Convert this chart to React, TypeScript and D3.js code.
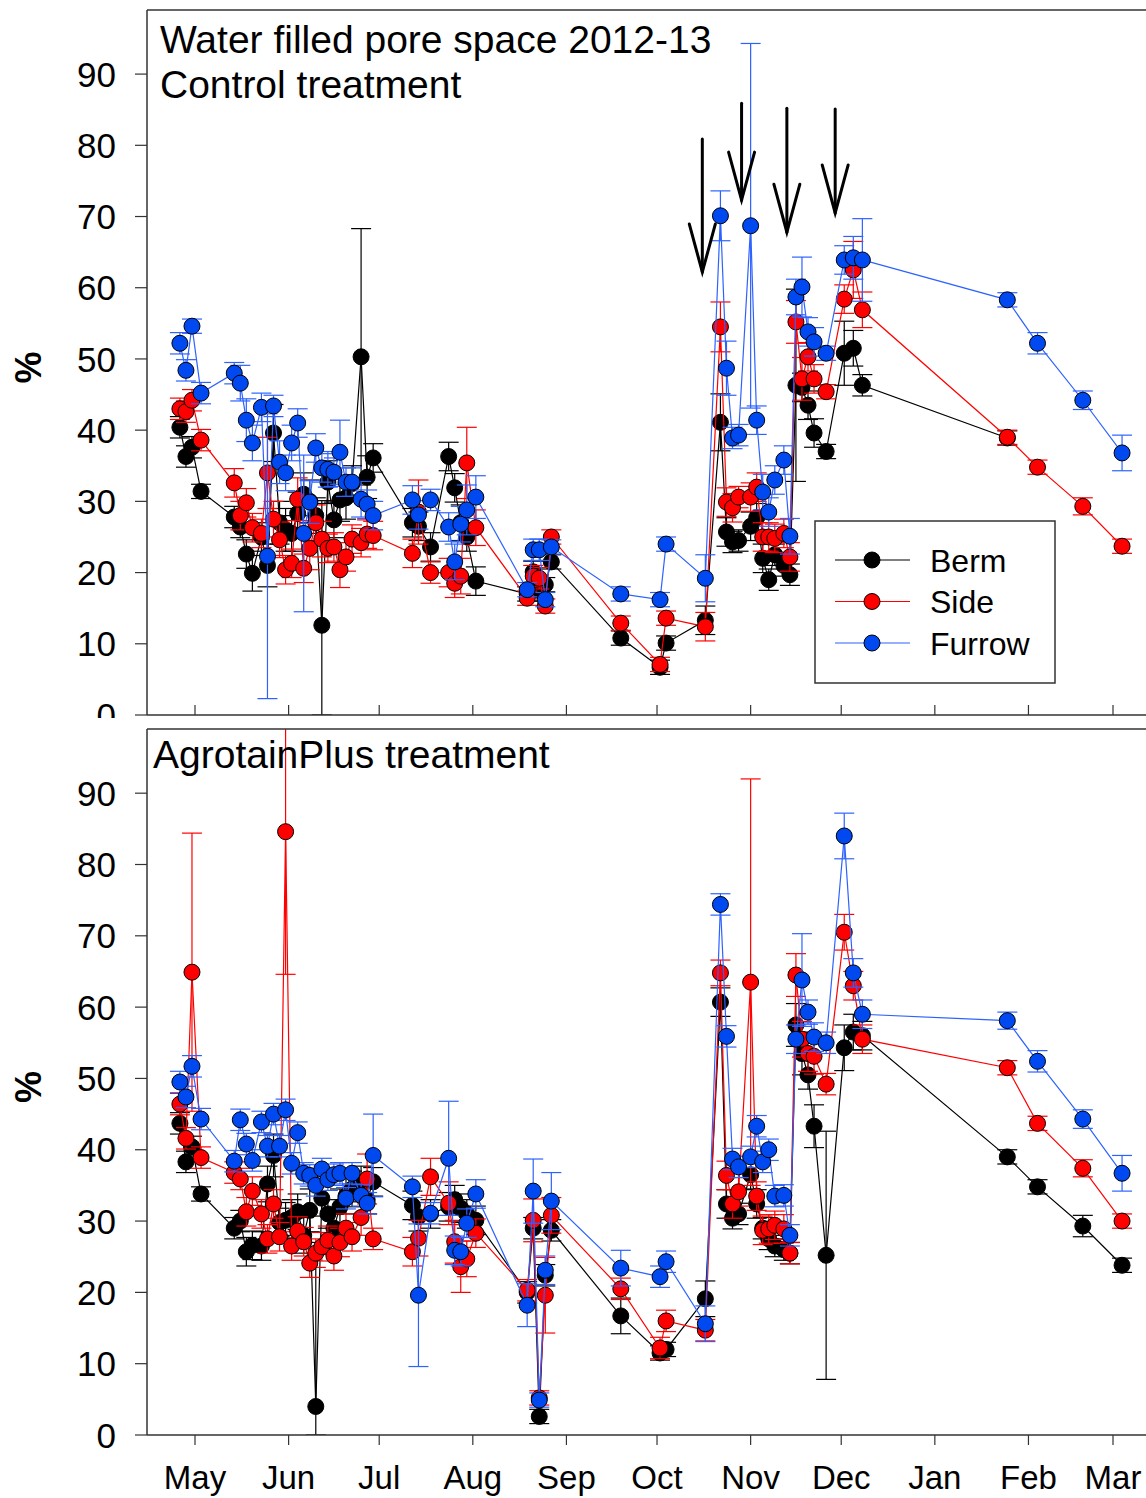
import React from "react";
import * as d3 from "d3";

// sampling dates shared by both treatments
const sampleDates = [
  "2012-04-26", "2012-04-28", "2012-04-30", "2012-05-03", "2012-05-14", "2012-05-16", "2012-05-18", "2012-05-20", "2012-05-23", "2012-05-25",
  "2012-05-27", "2012-05-29", "2012-05-31", "2012-06-02", "2012-06-04", "2012-06-06", "2012-06-08", "2012-06-10", "2012-06-12", "2012-06-14",
  "2012-06-16", "2012-06-18", "2012-06-20", "2012-06-22", "2012-06-25", "2012-06-27", "2012-06-29", "2012-07-12", "2012-07-14", "2012-07-18",
  "2012-07-24", "2012-07-26", "2012-07-28", "2012-07-30", "2012-08-02", "2012-08-19", "2012-08-21", "2012-08-23", "2012-08-25", "2012-08-27",
  "2012-09-19", "2012-10-02", "2012-10-04", "2012-10-17", "2012-10-22", "2012-10-24", "2012-10-26", "2012-10-28", "2012-11-01", "2012-11-03",
  "2012-11-05", "2012-11-07", "2012-11-09", "2012-11-12", "2012-11-14", "2012-11-16", "2012-11-18", "2012-11-20", "2012-11-22", "2012-11-26",
  "2012-12-02", "2012-12-05", "2012-12-08", "2013-01-25", "2013-02-04", "2013-02-19", "2013-03-04",
];

// Control treatment
const controlBerm = [
  40.4, 36.3, 37.6, 31.4, 27.8, 26.4, 22.6, 19.9, 25.0, 21.0,
  39.6, 27.0, 26.0, 25.5, 28.3, 31.0, 30.0, 28.0, 12.6, 32.7,
  27.4, 30.2, 30.5, 32.5, 50.3, 33.4, 36.1, 27.0, 26.5, 23.6,
  36.3, 31.9, 27.0, 25.0, 18.8, 17.0, 20.1, 17.5, 18.3, 21.5,
  10.8, 6.7, 10.1, 13.3, 41.1, 25.7, 24.3, 24.5, 26.5, 27.7,
  22.0, 19.0, 22.5, 21.0, 19.7, 46.3, 46.0, 43.5, 39.6, 37.0,
  50.8, 51.5, 46.3, 38.9, null, null, null,
];
const controlBermErr = [
  1.5, 1.5, 1.5, 1.0, 1.5, 1.5, 2.0, 2.5, 2.0, 3.0,
  4.0, 3.0, 3.0, 2.5, 3.0, 3.0, 3.0, 2.5, 17.5, 3.0,
  2.5, 3.0, 3.0, 2.5, 18.0, 3.0, 2.0, 2.0, 2.0, 2.0,
  2.0, 2.0, 2.5, 2.0, 2.0, 1.0, 1.5, 1.5, 1.0, 1.0,
  1.0, 1.0, 1.0, 2.0, 4.0, 2.0, 1.5, 1.5, 2.0, 2.0,
  2.0, 1.5, 1.5, 1.5, 1.5, 13.5, 2.0, 2.0, 2.0, 1.0,
  4.5, 2.5, 1.5, 1.0, null, null, null,
];
const controlSide = [
  43.0, 42.6, 44.2, 38.6, 32.6, 28.0, 29.8, 26.3, 25.5, 34.0,
  27.5, 24.6, 20.4, 21.3, 30.3, 20.6, 23.4, 27.0, 24.7, 23.4,
  23.6, 20.4, 22.2, 24.7, 24.2, 25.4, 25.2, 22.7, 28.5, 20.0,
  20.0, 18.5, 19.5, 35.4, 26.3, 16.4, 19.5, 19.2, 15.3, 25.0,
  12.9, 7.1, 13.6, 12.4, 54.5, 29.9, 29.1, 30.6, 30.6, 32.0,
  25.0, 25.0, 24.8, 25.5, 22.2, 55.2, 47.2, 50.3, 47.2, 45.4,
  58.4, 62.5, 56.9, 39.0, 34.8, 29.3, 23.7,
];
const controlSideErr = [
  1.5, 1.5, 1.5, 1.5, 2.0, 2.0, 2.0, 2.0, 2.0, 5.0,
  2.5, 2.5, 2.0, 2.0, 3.0, 2.0, 3.0, 2.5, 2.5, 2.0,
  2.0, 2.5, 2.0, 2.0, 2.0, 2.0, 2.0, 2.0, 4.5, 1.5,
  2.0, 2.0, 2.5, 5.0, 2.5, 1.0, 1.5, 1.5, 1.0, 1.0,
  1.0, 1.0, 1.0, 2.0, 3.5, 2.0, 2.0, 1.5, 2.0, 2.0,
  2.0, 2.0, 2.0, 2.0, 2.0, 3.0, 3.0, 2.0, 2.0, 1.0,
  2.0, 4.0, 2.5, 1.0, 1.0, 1.2, 1.0,
];
const controlFurrow = [
  52.2, 48.4, 54.6, 45.2, 48.0, 46.6, 41.4, 38.2, 43.2, 22.3,
  43.4, 35.5, 34.0, 38.2, 41.0, 25.5, 29.9, 37.5, 34.7, 34.5,
  34.1, 36.9, 32.7, 32.7, 30.3, 29.6, 28.0, 30.2, 28.1, 30.2,
  26.4, 21.5, 26.8, 28.8, 30.6, 17.6, 23.2, 23.2, 16.2, 23.6,
  17.0, 16.2, 24.0, 19.2, 70.1, 48.7, 38.9, 39.3, 68.7, 41.4,
  31.3, 28.5, 33.0, 35.8, 25.1, 58.7, 60.1, 53.8, 52.4, 50.8,
  63.9, 64.2, 63.9, 58.3, 52.2, 44.2, 36.8,
];
const controlFurrowErr = [
  1.5, 1.5, 1.0, 1.5, 1.5, 2.5, 3.0, 2.5, 2.0, 20.0,
  1.5, 3.0, 2.5, 2.5, 2.0, 11.0, 3.0, 2.0, 2.0, 2.5,
  2.0, 4.5, 2.0, 2.0, 2.5, 2.0, 2.0, 2.0, 2.0, 1.5,
  2.0, 2.5, 2.5, 3.5, 3.0, 1.0, 1.5, 1.5, 1.0, 1.0,
  1.0, 1.0, 1.0, 3.3, 3.5, 3.8, 1.5, 1.5, 25.6, 2.0,
  2.5, 2.0, 2.0, 2.0, 2.5, 2.5, 4.2, 2.0, 2.0, 1.0,
  2.0, 3.0, 5.8, 1.0, 1.5, 1.3, 2.5,
];

// AgrotainPlus treatment
const agroBerm = [
  43.7, 38.3, 40.4, 33.8, 29.0, 30.0, 25.7, 26.6, 26.5, 35.2,
  39.2, 29.8, 30.1, 30.5, 31.3, 28.0, 31.5, 4.0, 33.2, 31.0,
  29.0, 32.0, 33.5, 34.5, 35.2, 33.0, 35.5, 32.2, 30.6, 31.0,
  32.0, 33.0, 31.8, 31.0, 30.1, 20.0, 29.0, 2.6, 22.4, 28.7,
  16.7, 11.5, 12.0, 19.1, 60.7, 32.4, 30.4, 31.0, 36.5, 32.4,
  29.0, 27.5, 26.5, 26.0, 25.5, 57.5, 53.5, 50.5, 43.3, 25.2,
  54.3, 56.5, 56.0, 39.0, 34.8, 29.3, 23.8,
];
const agroBermErr = [
  1.5, 1.5, 1.5, 1.0, 1.5, 1.5, 2.0, 2.0, 2.0, 2.5,
  3.0, 2.0, 2.5, 2.5, 2.5, 2.5, 3.0, 23.0, 2.5, 2.0,
  2.0, 2.5, 2.5, 2.5, 2.5, 2.0, 2.0, 2.0, 2.0, 2.0,
  2.0, 2.0, 2.0, 2.0, 2.0, 1.5, 1.5, 1.0, 1.5, 1.5,
  2.5, 1.0, 1.0, 2.5, 2.0, 2.0, 1.5, 1.5, 2.0, 2.0,
  1.5, 1.5, 1.5, 1.5, 1.5, 3.0, 3.0, 2.0, 3.0, 17.4,
  3.2, 2.5, 2.0, 1.0, 1.0, 1.5, 1.0,
];
const agroSide = [
  46.4, 41.6, 64.9, 38.9, 36.8, 35.9, 31.3, 34.2, 31.0, 27.5,
  32.4, 27.8, 84.6, 26.5, 28.6, 27.1, 24.1, 25.5, 26.4, 27.3,
  25.1, 27.0, 29.0, 27.8, 30.5, 35.9, 27.5, 25.7, 27.6, 36.2,
  32.5, 27.1, 23.6, 24.7, 28.3, 20.3, 30.1, 5.2, 19.6, 30.8,
  20.5, 12.2, 16.0, 14.7, 64.8, 36.4, 32.4, 34.1, 63.5, 33.5,
  28.7, 28.9, 29.4, 28.9, 25.5, 64.5, 55.5, 53.5, 53.1, 49.2,
  70.5, 63.0, 55.5, 51.5, 43.7, 37.4, 30.0,
];
const agroSideErr = [
  1.5, 1.5, 19.5, 1.5, 1.5, 1.5, 2.0, 2.0, 2.0, 2.0,
  2.0, 2.0, 20.0, 2.0, 2.0, 2.0, 2.0, 2.0, 2.0, 2.0,
  2.0, 2.0, 2.0, 2.0, 2.5, 3.5, 1.5, 2.0, 2.5, 2.6,
  3.0, 3.0, 3.6, 2.5, 2.0, 1.5, 3.0, 1.0, 5.3, 2.5,
  1.5, 1.5, 1.5, 1.5, 1.8, 2.0, 2.0, 2.0, 28.5, 2.0,
  2.0, 2.0, 2.0, 2.0, 1.5, 3.0, 2.5, 2.5, 2.5, 1.5,
  2.5, 2.0, 2.0, 1.0, 1.0, 1.2, 1.0,
];
const agroFurrow = [
  49.5, 47.4, 51.7, 44.3, 38.4, 44.2, 40.8, 38.5, 43.9, 40.5,
  45.0, 40.5, 45.6, 38.1, 42.4, 36.7, 36.4, 35.0, 37.3, 35.8,
  36.5, 36.7, 33.2, 36.7, 33.6, 32.5, 39.2, 34.8, 19.6, 31.1,
  38.8, 25.9, 25.7, 29.7, 33.8, 18.2, 34.2, 4.9, 23.1, 32.8,
  23.4, 22.2, 24.3, 15.6, 74.4, 55.9, 38.7, 37.6, 39.0, 43.3,
  38.3, 40.0, 33.5, 33.6, 28.0, 55.5, 63.8, 59.3, 55.8, 55.0,
  84.0, 64.8, 59.0, 58.1, 52.4, 44.3, 36.7,
];
const agroFurrowErr = [
  1.5, 1.5, 1.5, 1.5, 1.5, 1.5, 1.5, 1.5, 1.5, 1.5,
  1.5, 1.5, 1.5, 1.5, 1.5, 1.5, 1.5, 1.5, 1.5, 1.5,
  1.5, 1.5, 1.5, 1.5, 1.5, 1.5, 5.8, 1.5, 10.0, 1.5,
  8.0, 2.0, 2.0, 2.0, 2.0, 3.0, 4.5, 1.0, 2.0, 4.0,
  2.5, 1.5, 1.5, 2.5, 1.5, 1.5, 1.5, 1.5, 1.5, 1.5,
  1.5, 1.5, 1.5, 1.5, 1.5, 2.0, 6.5, 1.7, 2.0, 1.5,
  3.2, 2.0, 2.0, 1.2, 1.5, 1.3, 2.5,
];

const seriesNames = ["Berm", "Side", "Furrow"];
const lineColors = ["#000000", "#ff0000", "#2e62ff"];
const fillColors = ["#000000", "#ff0000", "#0048f0"];

const yTicks = [0, 10, 20, 30, 40, 50, 60, 70, 80, 90];

// fertiliser events marked with arrows on the control panel
const arrowDates = ["2012-10-16", "2012-10-29", "2012-11-13", "2012-11-29"];
const arrowTips = [62.2, 72.3, 67.8, 70.5];
const arrowTops = [80.9, 85.9, 85.2, 85.1];

const W = 1146;
const H = 1498;
const left = 147;
const right = 1170;
const font = "'Liberation Sans', Arial, sans-serif";

const parse = d3.timeParse("%Y-%m-%d");
const dates = sampleDates.map((d) => parse(d) as Date);

const x = d3
  .scaleTime()
  .domain([new Date(2012, 4, 1), new Date(2013, 2, 1)])
  .range([195, 1113]);

const months = d3.timeMonth.range(new Date(2012, 4, 1), new Date(2013, 2, 2));

const panels = [
  {
    id: "control",
    top: 10,
    bottom: 715,
    series: [
      [controlBerm, controlBermErr],
      [controlSide, controlSideErr],
      [controlFurrow, controlFurrowErr],
    ],
  },
  {
    id: "agro",
    top: 729,
    bottom: 1435,
    series: [
      [agroBerm, agroBermErr],
      [agroSide, agroSideErr],
      [agroFurrow, agroFurrowErr],
    ],
  },
];

function Panel({ panel, index }) {
  const y = d3.scaleLinear().domain([0, 99]).range([panel.bottom, panel.top]);
  const clipId = `clip-${panel.id}`;
  const isBottom = index === 1;

  return (
    <g>
      {isBottom && <rect x={0} y={718} width={W} height={H - 718} fill="#fff" />}
      <defs>
        <clipPath id={clipId}>
          <rect x={left} y={panel.top} width={right - left} height={panel.bottom - panel.top} />
        </clipPath>
      </defs>

      <g clipPath={`url(#${clipId})`}>
        {panel.series.map(([vals, errs], si) => {
          const pts = dates
            .map((d, i) => ({ d, v: vals[i], e: errs[i] }))
            .filter((p) => p.v != null);
          const line = d3
            .line<any>()
            .x((p) => x(p.d))
            .y((p) => y(p.v));
          return (
            <g key={si}>
              {pts.map((p, i) => {
                const cx = x(p.d);
                const y1 = y(p.v + p.e);
                const y0 = y(Math.max(0, p.v - p.e));
                return (
                  <g key={i} stroke={lineColors[si]} strokeWidth={1.2}>
                    <line x1={cx} x2={cx} y1={y1} y2={y0} />
                    <line x1={cx - 10} x2={cx + 10} y1={y1} y2={y1} />
                    <line x1={cx - 10} x2={cx + 10} y1={y0} y2={y0} />
                  </g>
                );
              })}
              <path d={line(pts) || ""} fill="none" stroke={lineColors[si]} strokeWidth={1.2} />
              {pts.map((p, i) => (
                <circle
                  key={i}
                  cx={x(p.d)}
                  cy={y(p.v)}
                  r={8}
                  fill={fillColors[si]}
                  stroke="#000"
                  strokeWidth={1}
                />
              ))}
            </g>
          );
        })}
      </g>

      {/* frame */}
      <line x1={left} x2={right} y1={panel.top} y2={panel.top} stroke="#333" strokeWidth={1.5} />
      <line x1={left} x2={left} y1={panel.top} y2={panel.bottom} stroke="#333" strokeWidth={1.5} />
      <line x1={left} x2={right} y1={panel.bottom} y2={panel.bottom} stroke="#333" strokeWidth={1.5} />

      {/* y axis */}
      {yTicks.map((t) => (
        <g key={t}>
          <line x1={left - 12} x2={left} y1={y(t)} y2={y(t)} stroke="#333" strokeWidth={1.2} />
          <text
            x={left - 31}
            y={y(t)}
            dy="0.36em"
            textAnchor="end"
            fontFamily={font}
            fontSize={35}
            fill="#000"
          >
            {t}
          </text>
        </g>
      ))}
      <text
        transform={`translate(41,${(panel.top + panel.bottom) / 2 + 5}) rotate(-90)`}
        textAnchor="middle"
        fontFamily={font}
        fontSize={36}
        fontWeight="bold"
      >
        %
      </text>

      {/* x axis */}
      {months.map((m, i) => (
        <g key={i}>
          {isBottom ? (
            <>
              <line x1={x(m)} x2={x(m)} y1={panel.bottom} y2={panel.bottom + 10} stroke="#333" strokeWidth={1.2} />
              <text x={x(m)} y={1489} textAnchor="middle" fontFamily={font} fontSize={33}>
                {d3.timeFormat("%b")(m)}
              </text>
            </>
          ) : (
            <line x1={x(m)} x2={x(m)} y1={panel.bottom} y2={panel.bottom - 10} stroke="#333" strokeWidth={1.2} />
          )}
        </g>
      ))}
    </g>
  );
}

export default function App() {
  const yTop = d3.scaleLinear().domain([0, 99]).range([715, 10]);
  return (
    <svg
      width={W}
      height={H}
      style={{ position: "absolute", left: 0, top: 0, background: "#fff" }}
    >
      <rect x={0} y={0} width={W} height={H} fill="#fff" />
      {panels.map((p, i) => (
        <Panel key={p.id} panel={p} index={i} />
      ))}

      {/* titles */}
      <text x={160} y={53} fontFamily={font} fontSize={39}>
        Water filled pore space 2012-13
      </text>
      <text x={160} y={98} fontFamily={font} fontSize={39}>
        Control treatment
      </text>
      <text x={153} y={768} fontFamily={font} fontSize={39}>
        AgrotainPlus treatment
      </text>

      {/* arrows */}
      {arrowDates.map((d, i) => {
        const ax = x(parse(d) as Date);
        const tip = yTop(arrowTips[i]);
        const topY = yTop(arrowTops[i]);
        return (
          <g key={d} stroke="#000" strokeWidth={3} fill="none" strokeLinecap="round">
            <line x1={ax} x2={ax} y1={topY} y2={tip} />
            <polyline points={`${ax - 13},${tip - 48} ${ax},${tip} ${ax + 13},${tip - 48}`} />
          </g>
        );
      })}

      {/* legend */}
      <g>
        <rect x={815} y={521} width={240} height={162} fill="#fff" stroke="#333" strokeWidth={1.5} />
        {seriesNames.map((name, i) => {
          const ly = 560 + i * 41.5;
          return (
            <g key={name}>
              <line x1={835} x2={910} y1={ly} y2={ly} stroke={lineColors[i]} strokeWidth={1.2} />
              <circle cx={872} cy={ly} r={8} fill={fillColors[i]} stroke="#000" strokeWidth={1} />
              <text x={930} y={ly} dy="0.36em" fontFamily={font} fontSize={32}>
                {name}
              </text>
            </g>
          );
        })}
      </g>
    </svg>
  );
}
